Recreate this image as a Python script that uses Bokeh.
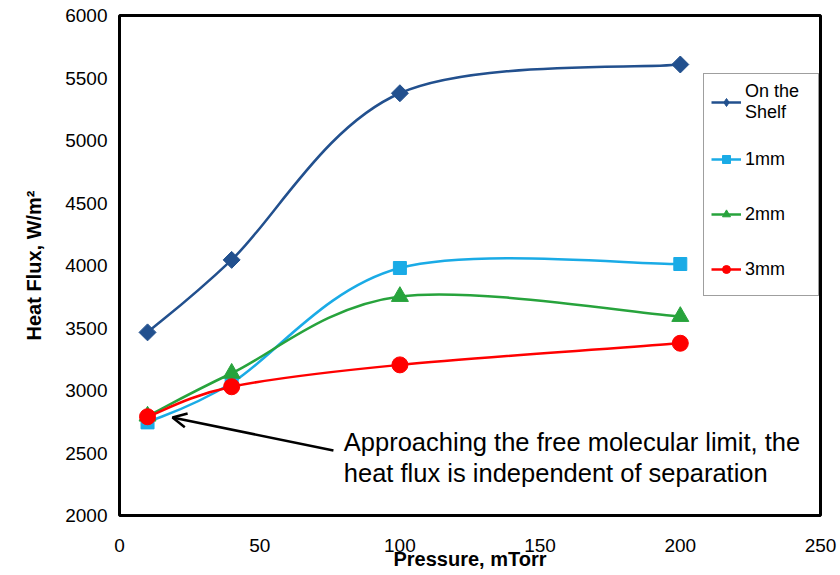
import numpy as np
from bokeh.plotting import figure
from bokeh.models import (Legend, LegendItem, Arrow, OpenHead, Label, Range1d,
                          FixedTicker)
from bokeh.embed import file_html
from bokeh.resources import INLINE

# ---- data -----------------------------------------------------------
pressure = [10, 40, 100, 200]
shelf = [3465, 4045, 5378, 5608]
mm1 = [2745, 3060, 3980, 4012]
mm2 = [2795, 3138, 3752, 3592]
mm3 = [2790, 3030, 3205, 3378]
series_names = ["On the\nShelf", "1mm", "2mm", "3mm"]
series_colors = ["#22508E", "#1AABE6", "#27A33C", "#FF0000"]
series_markers = ["diamond", "square", "triangle", "circle"]
x_ticks = [0, 50, 100, 150, 200, 250]
y_ticks = [2000, 2500, 3000, 3500, 4000, 4500, 5000, 5500, 6000]
x_title = "Pressure, mTorr"
y_title = "Heat Flux, W/m²"
note = "Approaching the free molecular limit, the\nheat flux is independent of separation"
note_x, note_y = 80, 2700
arrow_from = (76.3, 2520)
arrow_to = (18.9, 2784)

FONT = "Liberation Sans"


def smooth_segments(x, y):
    """Cardinal (Catmull-Rom) Bezier control points, as in a smoothed Excel line."""
    x = np.asarray(x, float)
    y = np.asarray(y, float)
    n = len(x)
    out = dict(x0=[], y0=[], x1=[], y1=[], cx0=[], cy0=[], cx1=[], cy1=[])
    for i in range(n - 1):
        pm = max(i - 1, 0)
        pp = min(i + 2, n - 1)
        out["x0"].append(x[i]); out["y0"].append(y[i])
        out["x1"].append(x[i + 1]); out["y1"].append(y[i + 1])
        out["cx0"].append(x[i] + (x[i + 1] - x[pm]) / 6)
        out["cy0"].append(y[i] + (y[i + 1] - y[pm]) / 6)
        out["cx1"].append(x[i + 1] - (x[pp] - x[i]) / 6)
        out["cy1"].append(y[i + 1] - (y[pp] - y[i]) / 6)
    return out


p = figure(width=840, height=575, output_backend="svg", toolbar_location=None,
           x_range=Range1d(0, 250), y_range=Range1d(2000, 6000),
           min_border_left=119, min_border_right=20, min_border_top=15,
           min_border_bottom=60)
p.background_fill_color = "white"
p.border_fill_color = "white"
p.outline_line_color = "black"
p.outline_line_width = 3
p.xgrid.visible = False
p.ygrid.visible = False

for ax in (p.xaxis[0], p.yaxis[0]):
    ax.axis_line_color = None
    ax.major_tick_line_color = None
    ax.minor_tick_line_color = None
    ax.major_tick_out = 0
    ax.major_tick_in = 0
    ax.minor_tick_out = 0
    ax.minor_tick_in = 0
    ax.major_label_text_font = FONT
    ax.major_label_text_font_size = "19px"
    ax.major_label_text_color = "black"
    ax.axis_label_text_font = FONT
    ax.axis_label_text_font_size = "20px"
    ax.axis_label_text_font_style = "bold"
    ax.axis_label_text_color = "black"

p.xaxis.ticker = FixedTicker(ticks=x_ticks)
p.yaxis.ticker = FixedTicker(ticks=y_ticks)
p.xaxis.axis_label = x_title
p.yaxis.axis_label = y_title
p.xaxis.major_label_standoff = 23
p.xaxis.axis_label_standoff = -7
p.yaxis.major_label_standoff = 12
p.yaxis.axis_label_standoff = 17

items = []
for ys, name, col, mk in zip([shelf, mm1, mm2, mm3], series_names,
                              series_colors, series_markers):
    seg = smooth_segments(pressure, ys)
    r_line = p.bezier(line_color=col, line_width=2.5, **seg)
    if mk == "diamond":
        r_pt = p.scatter(pressure, ys, marker="square", size=12, angle=np.pi / 4,
                         fill_color=col, line_color=col)
        # legend-only marker (the rotated square above is not rotated in legends)
        r_leg = p.scatter(pressure, ys, marker="diamond", size=12,
                          fill_color=col, line_color=col, visible=False)
        rends = [r_line, r_leg]
    else:
        size = {"square": 13, "triangle": 17, "circle": 16}[mk]
        r_pt = p.scatter(pressure, ys, marker=mk, size=size,
                         fill_color=col, line_color=col)
        rends = [r_line, r_pt]
    items.append(LegendItem(label=name, renderers=rends))

legend = Legend(items=items, location=(584, 219))
legend.label_text_font = FONT
legend.label_text_font_size = "18px"
legend.label_text_line_height = 1.0
legend.label_text_color = "black"
legend.label_height = 38
legend.label_width = 66
legend.glyph_width = 30
legend.glyph_height = 20
legend.label_standoff = 4
legend.spacing = 17
legend.padding = 7
legend.margin = 0
legend.border_line_color = "#404040"
legend.border_line_width = 1
legend.background_fill_alpha = 1
p.add_layout(legend)

p.add_layout(Arrow(end=OpenHead(size=14, line_width=2.5, line_color="black"),
                   x_start=arrow_from[0], y_start=arrow_from[1],
                   x_end=arrow_to[0], y_end=arrow_to[1],
                   line_width=2.5, line_color="black"))

p.add_layout(Label(x=note_x, y=note_y, text=note, text_font=FONT,
                   text_font_size="25.5px", text_baseline="top",
                   text_line_height=1.12, text_color="black"))

open("out.html", "w").write(file_html(p, INLINE))
